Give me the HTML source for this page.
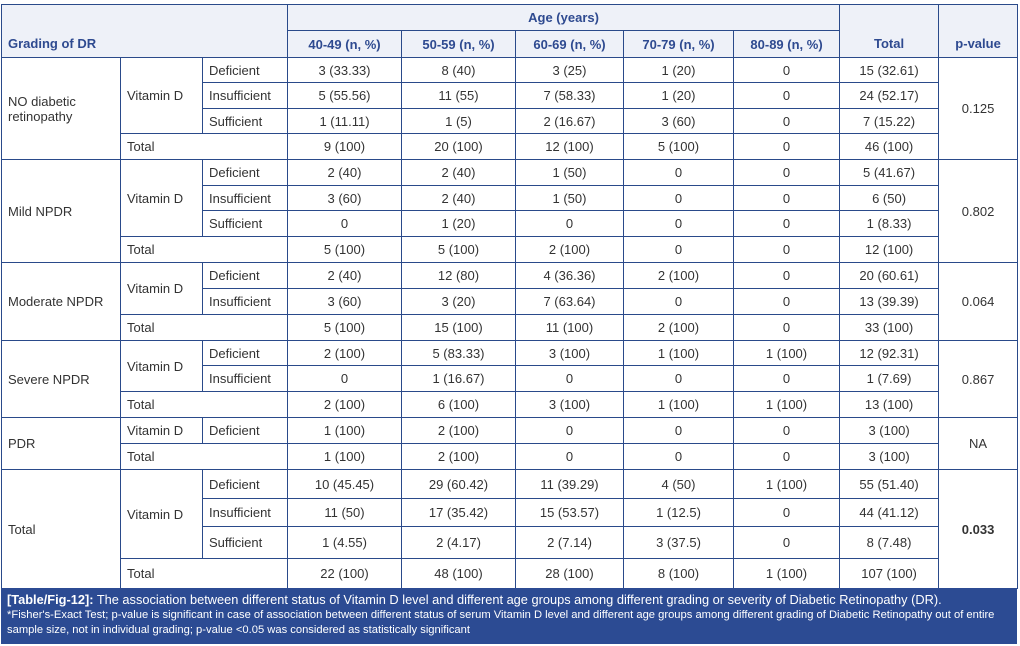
<!DOCTYPE html>
<html><head><meta charset="utf-8"><style>
body{margin:0;background:#fff;width:1020px;height:646px;overflow:hidden;font-family:"Liberation Sans",sans-serif;}
table{position:absolute;left:1px;top:4px;border-collapse:collapse;table-layout:fixed;width:1016px;font-size:13px;color:#333;}
td,th{border:1px solid #2a4a8a;padding:0 6px;text-align:center;white-space:nowrap;overflow:hidden;}
th{background:#eef1f8;color:#2e4a90;font-weight:bold;font-size:13px;}
td.l{text-align:left;}
.cap{position:absolute;left:1px;top:588px;width:1016px;height:56px;background:#2c4b93;color:#fff;box-sizing:border-box;padding:4px 6px;}
.cap .a{font-size:12.8px;line-height:16px;}
.cap .b{font-size:11.2px;line-height:15px;}
</style></head><body>
<table>
<colgroup><col style="width:119px"><col style="width:82px"><col style="width:85px"><col style="width:114px"><col style="width:114px"><col style="width:108px"><col style="width:110px"><col style="width:106px"><col style="width:99px"><col style="width:79px"></colgroup>
<tr style="height:26px"><th colspan="3" rowspan="2" class="l" style="text-align:left;vertical-align:bottom;padding-bottom:6px">Grading of DR</th><th colspan="5">Age (years)</th><th rowspan="2" style="vertical-align:bottom;padding-bottom:6px">Total</th><th rowspan="2" style="vertical-align:bottom;padding-bottom:6px">p-value</th></tr>
<tr style="height:27px"><th>40-49 (n, %)</th><th>50-59 (n, %)</th><th>60-69 (n, %)</th><th>70-79 (n, %)</th><th>80-89 (n, %)</th></tr>

<tr style="height:25px"><td rowspan="4" class="l">NO diabetic<br>retinopathy</td><td rowspan="3" class="l">Vitamin D</td><td class="l">Deficient</td><td>3 (33.33)</td><td>8 (40)</td><td>3 (25)</td><td>1 (20)</td><td>0</td><td>15 (32.61)</td><td rowspan="4">0.125</td></tr>
<tr style="height:26px"><td class="l">Insufficient</td><td>5 (55.56)</td><td>11 (55)</td><td>7 (58.33)</td><td>1 (20)</td><td>0</td><td>24 (52.17)</td></tr>
<tr style="height:25px"><td class="l">Sufficient</td><td>1 (11.11)</td><td>1 (5)</td><td>2 (16.67)</td><td>3 (60)</td><td>0</td><td>7 (15.22)</td></tr>
<tr style="height:26px"><td colspan="2" class="l">Total</td><td>9 (100)</td><td>20 (100)</td><td>12 (100)</td><td>5 (100)</td><td>0</td><td>46 (100)</td></tr>

<tr style="height:26px"><td rowspan="4" class="l">Mild NPDR</td><td rowspan="3" class="l">Vitamin D</td><td class="l">Deficient</td><td>2 (40)</td><td>2 (40)</td><td>1 (50)</td><td>0</td><td>0</td><td>5 (41.67)</td><td rowspan="4">0.802</td></tr>
<tr style="height:25px"><td class="l">Insufficient</td><td>3 (60)</td><td>2 (40)</td><td>1 (50)</td><td>0</td><td>0</td><td>6 (50)</td></tr>
<tr style="height:26px"><td class="l">Sufficient</td><td>0</td><td>1 (20)</td><td>0</td><td>0</td><td>0</td><td>1 (8.33)</td></tr>
<tr style="height:26px"><td colspan="2" class="l">Total</td><td>5 (100)</td><td>5 (100)</td><td>2 (100)</td><td>0</td><td>0</td><td>12 (100)</td></tr>

<tr style="height:26px"><td rowspan="3" class="l">Moderate NPDR</td><td rowspan="2" class="l">Vitamin D</td><td class="l">Deficient</td><td>2 (40)</td><td>12 (80)</td><td>4 (36.36)</td><td>2 (100)</td><td>0</td><td>20 (60.61)</td><td rowspan="3">0.064</td></tr>
<tr style="height:26px"><td class="l">Insufficient</td><td>3 (60)</td><td>3 (20)</td><td>7 (63.64)</td><td>0</td><td>0</td><td>13 (39.39)</td></tr>
<tr style="height:26px"><td colspan="2" class="l">Total</td><td>5 (100)</td><td>15 (100)</td><td>11 (100)</td><td>2 (100)</td><td>0</td><td>33 (100)</td></tr>

<tr style="height:25px"><td rowspan="3" class="l">Severe NPDR</td><td rowspan="2" class="l">Vitamin D</td><td class="l">Deficient</td><td>2 (100)</td><td>5 (83.33)</td><td>3 (100)</td><td>1 (100)</td><td>1 (100)</td><td>12 (92.31)</td><td rowspan="3">0.867</td></tr>
<tr style="height:26px"><td class="l">Insufficient</td><td>0</td><td>1 (16.67)</td><td>0</td><td>0</td><td>0</td><td>1 (7.69)</td></tr>
<tr style="height:26px"><td colspan="2" class="l">Total</td><td>2 (100)</td><td>6 (100)</td><td>3 (100)</td><td>1 (100)</td><td>1 (100)</td><td>13 (100)</td></tr>

<tr style="height:26px"><td rowspan="2" class="l">PDR</td><td class="l">Vitamin D</td><td class="l">Deficient</td><td>1 (100)</td><td>2 (100)</td><td>0</td><td>0</td><td>0</td><td>3 (100)</td><td rowspan="2">NA</td></tr>
<tr style="height:26px"><td colspan="2" class="l">Total</td><td>1 (100)</td><td>2 (100)</td><td>0</td><td>0</td><td>0</td><td>3 (100)</td></tr>

<tr style="height:29px"><td rowspan="4" class="l">Total</td><td rowspan="3" class="l">Vitamin D</td><td class="l">Deficient</td><td>10 (45.45)</td><td>29 (60.42)</td><td>11 (39.29)</td><td>4 (50)</td><td>1 (100)</td><td>55 (51.40)</td><td rowspan="4"><b>0.033</b></td></tr>
<tr style="height:28px"><td class="l">Insufficient</td><td>11 (50)</td><td>17 (35.42)</td><td>15 (53.57)</td><td>1 (12.5)</td><td>0</td><td>44 (41.12)</td></tr>
<tr style="height:32px"><td class="l">Sufficient</td><td>1 (4.55)</td><td>2 (4.17)</td><td>2 (7.14)</td><td>3 (37.5)</td><td>0</td><td>8 (7.48)</td></tr>
<tr style="height:30px"><td colspan="2" class="l">Total</td><td>22 (100)</td><td>48 (100)</td><td>28 (100)</td><td>8 (100)</td><td>1 (100)</td><td>107 (100)</td></tr>
</table>
<div class="cap"><div class="a"><b>[Table/Fig-12]:</b> The association between different status of Vitamin D level and different age groups among different grading or severity of Diabetic Retinopathy (DR).</div><div class="b">*Fisher's-Exact Test; p-value is significant in case of association between different status of serum Vitamin D level and different age groups among different grading of Diabetic Retinopathy out of entire<br>sample size, not in individual grading; p-value &lt;0.05 was considered as statistically significant</div></div>
</body></html>
